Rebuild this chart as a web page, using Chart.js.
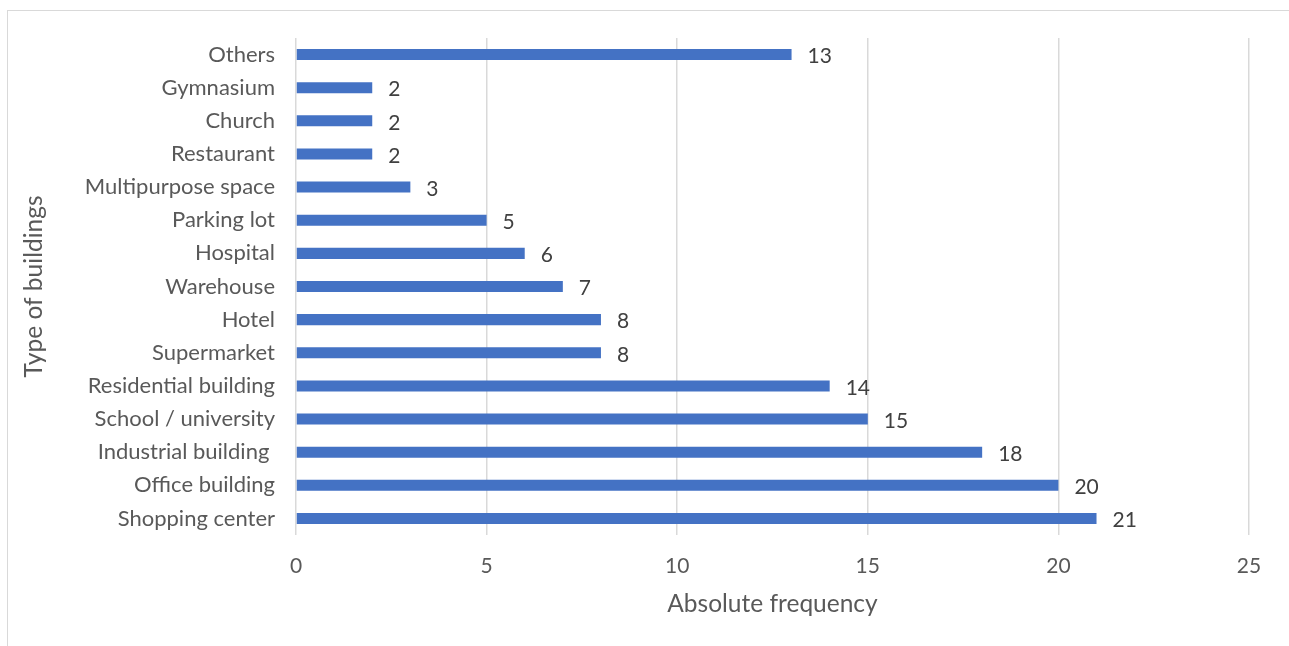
<!DOCTYPE html>
<html>
<head>
<meta charset="utf-8">
<script src="https://cdn.jsdelivr.net/npm/chart.js@4"></script>
<style>
  html, body { margin: 0; padding: 0; background: #ffffff; }
  #wrap { position: relative; width: 1289px; height: 646px; overflow: hidden; }
  #frame { position: absolute; left: 7px; top: 10px; right: -10px; bottom: -10px;
           border-left: 1.5px solid #d9d9d9; border-top: 1.5px solid #d9d9d9; pointer-events: none; }
  canvas { position: absolute; left: 0; top: 0; }
</style>
</head>
<body>
<div id="wrap">
  <canvas id="chart" width="1289" height="646"></canvas>
  <div id="frame"></div>
</div>
<script>
// Building types, listed top to bottom
const categories = [
  'Others', 'Gymnasium', 'Church', 'Restaurant', 'Multipurpose space',
  'Parking lot', 'Hospital', 'Warehouse', 'Hotel', 'Supermarket',
  'Residential building', 'School / university', 'Industrial building ',
  'Office building', 'Shopping center'
];
const frequencies = [13, 2, 2, 2, 3, 5, 6, 7, 8, 8, 14, 15, 18, 20, 21];
const xTicks = [0, 5, 10, 15, 20, 25];

const FONT = "Lato, 'Open Sans', sans-serif";

// Value labels drawn to the right of each bar
const valueLabels = {
  id: 'valueLabels',
  afterDatasetsDraw(chart) {
    const ctx = chart.ctx;
    const meta = chart.getDatasetMeta(0);
    ctx.save();
    ctx.font = '21px ' + FONT;
    ctx.fillStyle = '#404040';
    ctx.textAlign = 'left';
    ctx.textBaseline = 'middle';
    meta.data.forEach((bar, i) => {
      ctx.fillText(String(frequencies[i]), bar.x + 16, bar.y + 2);
    });
    ctx.restore();
  }
};

new Chart(document.getElementById('chart'), {
  type: 'bar',
  data: {
    labels: categories,
    datasets: [{
      data: frequencies,
      backgroundColor: '#4472C4',
      borderWidth: 0,
      barPercentage: 0.333,
      categoryPercentage: 1.0
    }]
  },
  options: {
    indexAxis: 'y',
    responsive: false,
    animation: false,
    devicePixelRatio: 1,
    layout: { padding: { left: 8, top: 38, right: 40, bottom: 0 } },
    plugins: {
      legend: { display: false },
      tooltip: { enabled: false }
    },
    scales: {
      x: {
        min: 0,
        max: 25,
        afterBuildTicks(scale) { scale.ticks = xTicks.map(v => ({ value: v })); },
        afterFit(scale) { scale.height = 111; },
        grid: { color: '#d9d9d9', lineWidth: 1.5, drawTicks: false },
        border: { display: false },
        ticks: { color: '#595959', font: { family: FONT, size: 21 }, padding: 19 },
        title: {
          display: true,
          text: 'Absolute frequency',
          color: '#595959',
          font: { family: FONT, size: 24.5 },
          padding: { top: 0, bottom: 27 }
        }
      },
      y: {
        afterFit(scale) { scale.width = 288; },
        grid: { display: false, drawTicks: false },
        border: { display: false },
        ticks: { color: '#595959', font: { family: FONT, size: 22 }, padding: 21 },
        title: {
          display: true,
          text: 'Type of buildings',
          color: '#595959',
          font: { family: FONT, size: 24.5 },
          padding: { top: 11, bottom: 0 }
        }
      }
    }
  },
  plugins: [valueLabels]
});
</script>
</body>
</html>
